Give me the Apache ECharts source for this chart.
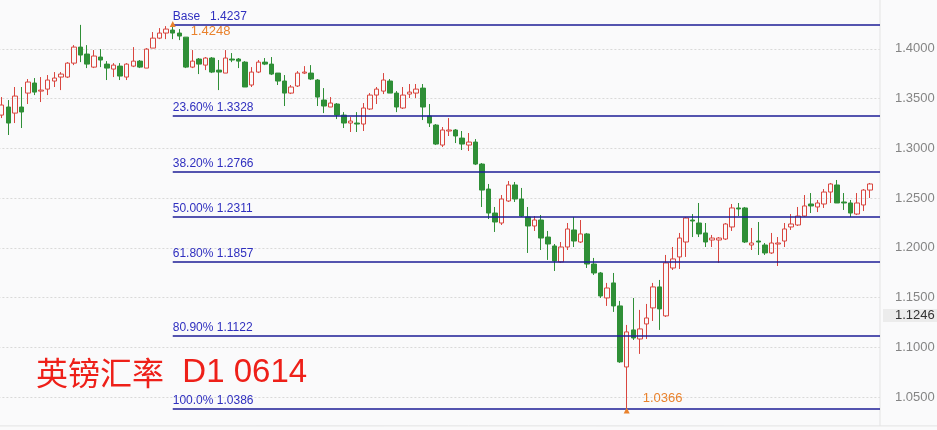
<!DOCTYPE html>
<html><head><meta charset="utf-8">
<script src="https://cdn.jsdelivr.net/npm/echarts@6/dist/echarts.min.js"></script>
<style>html,body{margin:0;padding:0;background:#fafafb}#c{width:937px;height:430px}</style>
</head><body><div id="c"></div>
<script>
// Weekly GBP/USD candles
const opens = [
1.3334,1.3415,1.3354,1.3415,1.3555,1.3656,1.3575,1.3595,1.3676,1.3716,
1.3716,1.3856,1.4017,1.3947,1.3816,1.3917,1.3846,1.3796,1.3826,1.3716,
1.3826,1.3876,1.3806,1.4007,1.4107,1.4158,1.4188,1.4158,1.4117,1.3816,
1.3897,1.3836,1.3907,1.3786,1.3756,1.3897,1.3897,1.3866,1.3636,1.3766,
1.3866,1.3846,1.3756,1.3676,1.3555,1.3626,1.3756,1.3756,1.3686,1.3485,
1.3415,1.3445,1.3334,1.3254,1.3254,1.3244,1.3395,1.3535,1.3575,1.3676,
1.3555,1.3405,1.3545,1.3555,1.3605,1.3324,1.3234,1.3033,1.3174,1.3184,
1.3103,1.3033,1.3063,1.2842,1.2591,1.2350,1.2250,1.2471,1.2632,1.2491,
1.2310,1.2220,1.2280,1.2109,1.2019,1.1859,1.2009,1.2180,1.2059,1.2140,
1.1838,1.1748,1.1497,1.1648,1.1417,1.0804,1.1176,1.1085,1.1236,1.1397,
1.1608,1.1317,1.1798,1.1909,1.2059,1.2280,1.2250,1.2150,1.2079,1.2079,
1.2089,1.2210,1.2401,1.2401,1.2029,1.2069,1.2029,1.1949,1.2039,1.2069,
1.2210,1.2230,1.2320,1.2441,1.2411,1.2441,1.2561,1.2632,1.2461,1.2451,
1.2340,1.2431,1.2581];
const closes = [
1.3435,1.3254,1.3525,1.3365,1.3666,1.3565,1.3585,1.3686,1.3706,1.3746,
1.3856,1.4017,1.3937,1.3846,1.3927,1.3887,1.3806,1.3836,1.3726,1.3846,
1.3876,1.3816,1.3997,1.4107,1.4158,1.4198,1.4158,1.4128,1.3816,1.3876,
1.3846,1.3907,1.3766,1.3766,1.3907,1.3887,1.3876,1.3616,1.3766,1.3866,
1.3846,1.3746,1.3676,1.3555,1.3616,1.3756,1.3766,1.3696,1.3515,1.3425,
1.3455,1.3334,1.3254,1.3274,1.3244,1.3405,1.3535,1.3595,1.3686,1.3555,
1.3415,1.3535,1.3565,1.3595,1.3415,1.3254,1.3043,1.3184,1.3184,1.3124,
1.3043,1.3063,1.2842,1.2581,1.2350,1.2260,1.2491,1.2632,1.2491,1.2320,
1.2220,1.2280,1.2099,1.2039,1.1869,1.2009,1.2190,1.2069,1.2140,1.1838,
1.1748,1.1517,1.1597,1.1417,1.0855,1.1156,1.1095,1.1186,1.1296,1.1608,
1.1387,1.1849,1.1889,1.2099,1.2300,1.2270,1.2140,1.2059,1.2099,1.2099,
1.2240,1.2401,1.2391,1.2059,1.2049,1.2059,1.1949,1.2049,1.2049,1.2190,
1.2240,1.2320,1.2421,1.2421,1.2451,1.2561,1.2642,1.2451,1.2451,1.2350,
1.2451,1.2581,1.2642];
const lows = [
1.3304,1.3134,1.3254,1.3204,1.3445,1.3535,1.3465,1.3535,1.3616,1.3585,
1.3706,1.3836,1.3866,1.3806,1.3806,1.3816,1.3686,1.3716,1.3686,1.3686,
1.3816,1.3806,1.3806,1.4007,1.4097,1.4097,1.4097,1.4087,1.3806,1.3806,
1.3746,1.3786,1.3756,1.3585,1.3756,1.3866,1.3806,1.3616,1.3616,1.3756,
1.3836,1.3736,1.3636,1.3425,1.3545,1.3616,1.3746,1.3686,1.3425,1.3354,
1.3415,1.3294,1.3204,1.3164,1.3164,1.3174,1.3385,1.3445,1.3545,1.3555,
1.3364,1.3395,1.3505,1.3505,1.3284,1.3214,1.3033,1.3013,1.3124,1.3053,
1.2983,1.2973,1.2832,1.2411,1.2290,1.2160,1.2230,1.2461,1.2461,1.2310,
1.1949,1.2170,1.1979,1.1879,1.1768,1.1849,1.1979,1.2009,1.2049,1.1798,
1.1728,1.1497,1.1417,1.1357,1.0845,1.0366,1.1075,1.0935,1.1085,1.1266,
1.1176,1.1306,1.1778,1.1788,1.1909,1.2109,1.2109,1.2009,1.2009,1.1849,
1.2079,1.2170,1.2320,1.2049,1.1979,1.1929,1.1929,1.1939,1.1818,1.2009,
1.2180,1.2220,1.2310,1.2350,1.2360,1.2401,1.2451,1.2451,1.2381,1.2310,
1.2330,1.2370,1.2501];
const highs = [
1.3515,1.3485,1.3616,1.3616,1.3696,1.3706,1.3716,1.3736,1.3766,1.3766,
1.3866,1.4037,1.4240,1.4037,1.3987,1.3997,1.3876,1.3856,1.3856,1.3856,
1.4017,1.3887,1.4007,1.4168,1.4208,1.4228,1.4248,1.4198,1.4117,1.3987,
1.3907,1.3917,1.3917,1.3887,1.3987,1.3957,1.3907,1.3876,1.3816,1.3887,
1.3907,1.3917,1.3756,1.3736,1.3636,1.3776,1.3826,1.3836,1.3696,1.3605,
1.3515,1.3455,1.3364,1.3314,1.3364,1.3455,1.3555,1.3616,1.3756,1.3696,
1.3575,1.3616,1.3646,1.3646,1.3646,1.3445,1.3244,1.3214,1.3304,1.3194,
1.3174,1.3154,1.3093,1.2852,1.2642,1.2411,1.2531,1.2672,1.2662,1.2602,
1.2411,1.2320,1.2330,1.2170,1.2039,1.2059,1.2250,1.2310,1.2280,1.2150,
1.1899,1.1758,1.1648,1.1748,1.1467,1.1226,1.1497,1.1377,1.1437,1.1648,
1.1678,1.1929,1.2009,1.2150,1.2310,1.2340,1.2451,1.2250,1.2130,1.2109,
1.2250,1.2441,1.2451,1.2411,1.2200,1.2260,1.2049,1.2150,1.2109,1.2250,
1.2340,1.2411,1.2531,1.2551,1.2481,1.2591,1.2652,1.2682,1.2551,1.2481,
1.2551,1.2591,1.2652];

const fibNames  = ['Base   ', '23.60% ', '38.20% ', '50.00% ', '61.80% ', '80.90% ', '100.0% '];
const fibValues = [1.4237, 1.3328, 1.2766, 1.2311, 1.1857, 1.1122, 1.0386];
const lastPrice = 1.1246;
const titleCn = '英镑汇率';
const titleEn = '  D1 0614';
const emptyWeeksAfter = 1;

// category labels: one per week (axis itself is hidden in the picture)
const categories = [];
const start = new Date(Date.UTC(2021, 0, 4));
for (let i = 0; i < opens.length + emptyWeeksAfter; i++) {
  const d = new Date(start.getTime() + i * 7 * 86400000);
  categories.push(d.toISOString().slice(0, 10));
}
const candles = opens.map((o, i) => [o, closes[i], lows[i], highs[i]]);
const hiIdx = highs.indexOf(Math.max(...highs));
const loIdx = lows.indexOf(Math.min(...lows));

const RED = '#d9463f', GREEN = '#2f8f37', FIB = '#1c1c96', FIBTXT = '#2f2fbf', ORANGE = '#e9822d';

const chart = echarts.init(document.getElementById('c'), null, {renderer: 'canvas'});
const option = {
  backgroundColor: '#fafafb',
  animation: false,
  title: {
    text: '{cn|' + titleCn + '}{en|' + titleEn + '}', left: 36, top: 353, padding: 0,
    textStyle: {
      fontWeight: 'normal',
      rich: {
        cn: {color: '#ee2019', fontSize: 32, fontWeight: 'normal', fontFamily: 'Noto Sans CJK SC', lineHeight: 40},
        en: {color: '#ee2019', fontSize: 33, fontWeight: 'normal', fontFamily: 'Liberation Sans', lineHeight: 40}
      }
    }
  },
  grid: {left: -1.6, width: 881.6, top: -1, height: 448, outerBoundsMode: 'none', containLabel: false},
  xAxis: [
    {type: 'category', data: categories, boundaryGap: true, show: false},
    {type: 'value', min: -0.5, max: categories.length - 0.5, show: false}
  ],
  yAxis: {
    type: 'value', position: 'right', min: 1.0, max: 1.45, interval: 0.05, scale: true,
    axisLine: {show: false}, axisTick: {show: false},
    axisLabel: {color: '#858585', fontSize: 13, fontFamily: 'Liberation Sans', margin: 15,
      showMinLabel: false, showMaxLabel: false, formatter: v => v.toFixed(4)},
    splitLine: {show: true, lineStyle: {color: '#d9d9d9', type: [2, 2], width: 1}}
  },
  series: [
    {
      type: 'candlestick', data: candles, barWidth: 5,
      itemStyle: {color: 'transparent', color0: GREEN, borderColor: RED, borderColor0: GREEN, borderWidth: 1},
      markPoint: {
        symbol: 'triangle', symbolSize: 6,
        itemStyle: {color: ORANGE},
        label: {show: true, color: ORANGE, fontSize: 13, fontFamily: 'Liberation Sans',
          formatter: p => Number(p.value).toFixed(4)},
        data: [
          {coord: [hiIdx, highs[hiIdx]], value: highs[hiIdx], label: {position: [21, 4]}},
          {coord: [loIdx, lows[loIdx]], value: lows[loIdx], label: {position: [19, -16]}}
        ]
      }
    },
    {
      type: 'line', xAxisIndex: 1, data: [], silent: true,
      markLine: {
        symbol: ['none', 'none'], silent: true,
        lineStyle: {color: FIB, width: 1.5, type: 'solid'},
        label: {position: 'insideStartTop', color: FIBTXT, fontSize: 12, fontFamily: 'Liberation Sans', distance: [0, 2],
          formatter: p => p.name},
        data: fibValues.map((v, i) => [
          {coord: [hiIdx, v], name: fibNames[i] + v.toFixed(4)},
          {coord: [categories.length - 0.5, v]}
        ])
      }
    }
  ]
};
chart.setOption(option);

// decorations: plot borders and last-price tag on the axis
const yLast = chart.convertToPixel({yAxisIndex: 0}, lastPrice);
const yBottom = chart.convertToPixel({yAxisIndex: 0}, 1.0212);
const xRight = chart.convertToPixel({xAxisIndex: 1}, categories.length - 0.5);
chart.setOption({
  graphic: [
    {type: 'line', shape: {x1: xRight, y1: 0, x2: xRight, y2: yBottom}, style: {stroke: '#e3e3e3', lineWidth: 1}},
    {type: 'line', shape: {x1: 0, y1: yBottom, x2: 937, y2: yBottom}, style: {stroke: '#e3e3e3', lineWidth: 1}},
    {type: 'rect', shape: {x: xRight + 3, y: yLast - 14, width: 60, height: 13}, style: {fill: '#ececec'}},
    {type: 'text', x: xRight + 15, y: yLast - 7.5, style: {text: lastPrice.toFixed(4), fill: '#333', fontSize: 13, fontFamily: 'Liberation Sans', verticalAlign: 'middle'}}
  ]
});
</script>
</body></html>
